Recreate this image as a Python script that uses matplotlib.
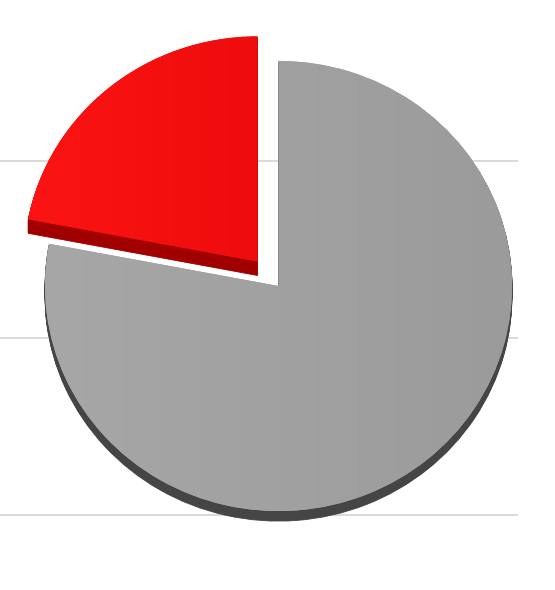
import matplotlib
matplotlib.use("Agg")
import matplotlib.pyplot as plt
import numpy as np
from matplotlib.colors import LinearSegmentedColormap

# slice data (red slice pulled out)
shares = [22, 78]
top_colors = ["#f70e0e", "#a1a1a1"]
side_colors = ["#a00000", "#454545"]
grad_left = ["#fc1414", "#a7a7a7"]
grad_right = ["#ef0c0c", "#9b9b9b"]
explode = [33, 0]  # offset in data units
depths = [14, 10]
grid_px = [161, 338, 515]

W, H = 555, 590
squash = 0.964  # pie is slightly tilted

fig = plt.figure(figsize=(5.55, 5.9), dpi=100)
ax = fig.add_axes([0, 0, 1, 1])


def py(p):
    # pixel row -> data y
    return (H - p) / squash


for p in grid_px:
    ax.axhline(py(p), xmin=0, xmax=517 / W, color="#d9d9d9", lw=1.4, zorder=0)

cx, cy, r = 278.5, py(286), 233.5

# extruded sides: stack shifted copies
for d in range(max(depths), 0, -1):
    wedges, _ = ax.pie(shares, explode=explode, startangle=90, counterclock=True,
                       colors=side_colors, center=(cx, cy - d / squash), radius=r,
                       frame=True, wedgeprops=dict(linewidth=0.6))
    for i, w in enumerate(wedges):
        w.set_edgecolor(side_colors[i])
        w.set_zorder(1)
        w.set_visible(d <= depths[i])

# top faces
tops, _ = ax.pie(shares, explode=explode, startangle=90, counterclock=True,
                 colors=top_colors, center=(cx, cy), radius=r, frame=True,
                 wedgeprops=dict(linewidth=0))
for i, w in enumerate(tops):
    w.set_zorder(2)
    bb = w.get_path().get_extents()
    cmap = LinearSegmentedColormap.from_list("g%d" % i, [grad_left[i], grad_right[i]])
    grad = np.linspace(0, 1, 256).reshape(1, -1)
    im = ax.imshow(grad, cmap=cmap, extent=[bb.x0, bb.x1, bb.y0, bb.y1],
                   aspect="auto", zorder=3, interpolation="bilinear")
    im.set_clip_path(w)

ax.set_aspect("auto")
ax.set_xlim(0, W)
ax.set_ylim(0, H / squash)
ax.axis("off")

fig.savefig("out.png", dpi=100)
